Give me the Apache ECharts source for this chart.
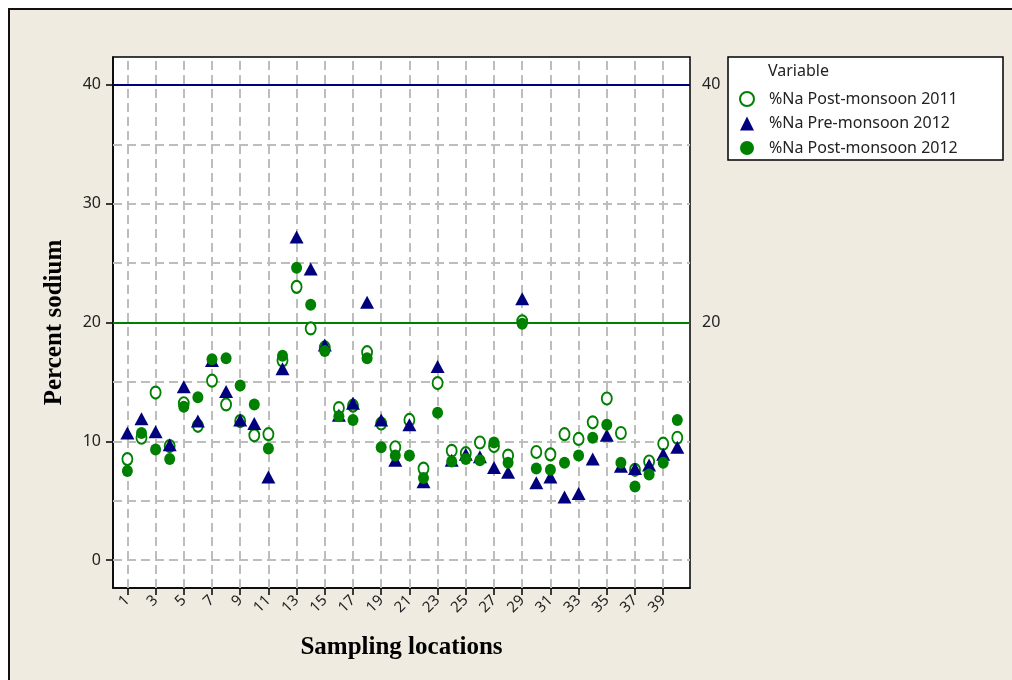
<!DOCTYPE html>
<html>
<head>
<meta charset="utf-8">
<script src="https://cdn.jsdelivr.net/npm/echarts@6/dist/echarts.min.js"></script>
<style>html,body{margin:0;padding:0;background:#fff}#c{width:1012px;height:680px}</style>
</head>
<body>
<div id="c"></div>
<script>
// Sampling locations 1..40
const locations = Array.from({length: 40}, (_, i) => i + 1);
const post2011 = [8.5,10.3,14.1,9.6,13.2,11.3,15.1,13.1,11.7,10.5,10.6,16.8,23.0,19.5,17.9,12.8,13.0,17.5,11.5,9.5,11.8,7.7,14.9,9.2,9.0,9.9,9.6,8.8,20.1,9.1,8.9,10.6,10.2,11.6,13.6,10.7,7.6,8.3,9.8,10.3];
const pre2012 = [10.7,11.9,10.8,9.7,14.6,11.7,16.8,14.2,11.8,11.5,7.0,16.1,27.2,24.5,18.1,12.2,13.2,21.7,11.8,8.4,11.4,6.6,16.3,8.4,8.9,8.7,7.8,7.4,22.0,6.5,7.0,5.3,5.6,8.5,10.5,7.9,7.7,8.0,8.9,9.5];
const post2012 = [7.5,10.7,9.3,8.5,12.9,13.7,16.9,17.0,14.7,13.1,9.4,17.2,24.6,21.5,17.6,12.1,11.8,17.0,9.5,8.8,8.8,6.9,12.4,8.3,8.5,8.4,9.9,8.2,19.9,7.7,7.6,8.2,8.8,10.3,11.4,8.2,6.2,7.2,8.2,11.8];
const seriesNames = ['%Na Post-monsoon 2011', '%Na Pre-monsoon 2012', '%Na Post-monsoon 2012'];
const xTickValues = [1,3,5,7,9,11,13,15,17,19,21,23,25,27,29,31,33,35,37,39];
const yTickValues = [0,10,20,30,40];
const yGridValues = [0,5,10,15,20,25,30,35];
const refLines = [40, 20];

const GREEN = '#008000', NAVY = '#00007f';
const labelFont = '"Noto Sans", "DejaVu Sans", sans-serif';
const serif = '"Liberation Serif", "Times New Roman", serif';

const pair = arr => arr.map((v, i) => [locations[i], v]);

const chart = echarts.init(document.getElementById('c'), null, {renderer: 'canvas'});
const option = {
  animation: false,
  backgroundColor: '#ffffff',
  graphic: [
    {type: 'rect', z: -10, shape: {x: 9, y: 9, width: 1020, height: 700}, style: {fill: '#efebe1', stroke: '#111', lineWidth: 2}},
    {type: 'rect', z: -5, shape: {x: 728, y: 57, width: 275, height: 103}, style: {fill: '#ffffff', stroke: '#000', lineWidth: 1.5}},
    {type: 'text', z: 10, left: 768, top: 63, style: {text: 'Variable', font: '16px ' + labelFont, fill: '#222'}}
  ],
  grid: {left: 113, right: 322, top: 57, bottom: 92, show: true, backgroundColor: '#fff', borderColor: '#000', borderWidth: 1.5},
  legend: {
    orient: 'vertical', left: 739, top: 91, itemWidth: 14, itemHeight: 14, itemGap: 8.5, padding: 0,
    data: seriesNames,
    textStyle: {fontFamily: labelFont, fontSize: 16, lineHeight: 16, color: '#222', padding: [0, 0, 0, 10]}
  },
  xAxis: {
    type: 'value', min: -0.02, max: 40.9,
    axisLine: {show: true, onZero: false, lineStyle: {color: '#000', width: 1.5}},
    axisTick: {show: true, length: 7, customValues: xTickValues, lineStyle: {color: '#000', width: 1.5}},
    axisLabel: {customValues: xTickValues, rotate: 45, margin: 10, fontFamily: labelFont, fontSize: 15, color: '#222'},
    splitLine: {show: false},
    name: 'Sampling locations', nameLocation: 'middle', nameGap: 47,
    nameTextStyle: {fontFamily: serif, fontWeight: 'bold', fontSize: 25, color: '#000'}
  },
  yAxis: {
    type: 'value', min: -2.35, max: 42.35,
    axisLine: {show: true, onZero: false, lineStyle: {color: '#000', width: 1.5}},
    axisTick: {show: true, length: 7, customValues: yTickValues, lineStyle: {color: '#000', width: 1.5}},
    axisLabel: {customValues: yTickValues, margin: 12, fontFamily: labelFont, fontSize: 16, color: '#222'},
    splitLine: {show: false},
    name: 'Percent sodium', nameLocation: 'middle', nameGap: 46,
    nameTextStyle: {fontFamily: serif, fontWeight: 'bold', fontSize: 25, color: '#000'}
  },
  series: [
    {
      type: 'scatter', data: [], silent: true,
      markLine: {
        silent: true, symbol: 'none', z: 1, animation: false,
        label: {show: false},
        lineStyle: {color: '#bdbdbd', width: 2, type: [9, 5]},
        data: yGridValues.map(v => ({yAxis: v})).concat(xTickValues.map(v => ({xAxis: v})))
      }
    },
    {
      type: 'scatter', data: [], silent: true,
      markLine: {
        silent: true, symbol: 'none', z: 1.5, animation: false,
        label: {show: true, position: 'end', distance: 12, formatter: p => String(p.value), fontFamily: labelFont, fontSize: 16, color: '#222'},
        data: [
          {yAxis: refLines[0], lineStyle: {color: NAVY, width: 2, type: 'solid'}},
          {yAxis: refLines[1], lineStyle: {color: GREEN, width: 2, type: 'solid'}}
        ]
      }
    },
    {
      name: seriesNames[0], type: 'scatter', z: 3, symbol: 'circle', symbolSize: [10, 12],
      itemStyle: {color: '#ffffff', borderColor: GREEN, borderWidth: 2, opacity: 1},
      data: pair(post2011)
    },
    {
      name: seriesNames[1], type: 'scatter', z: 4, symbol: 'triangle', symbolSize: [14, 13],
      itemStyle: {color: NAVY, opacity: 1},
      data: pair(pre2012)
    },
    {
      name: seriesNames[2], type: 'scatter', z: 5, symbol: 'circle', symbolSize: [11, 12],
      itemStyle: {color: GREEN, opacity: 1},
      data: pair(post2012)
    }
  ]
};
chart.setOption(option);
</script>
</body>
</html>
